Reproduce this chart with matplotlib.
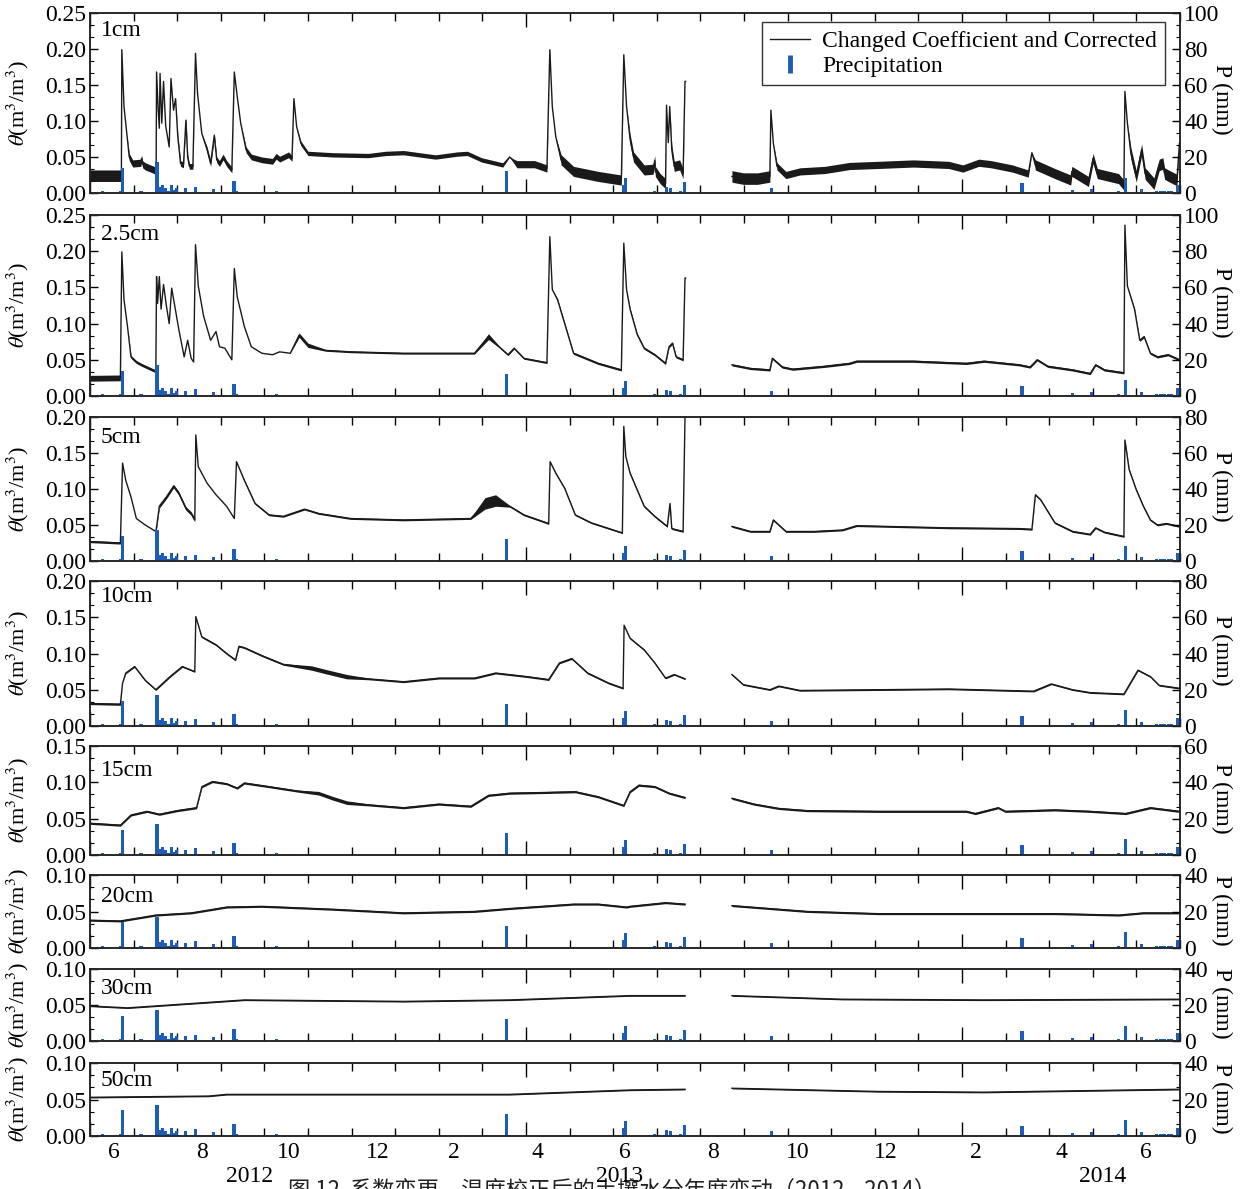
import numpy as np
import matplotlib
matplotlib.use('Agg')
import matplotlib.pyplot as plt
from matplotlib.lines import Line2D
from matplotlib.ticker import MultipleLocator, FormatStrFormatter

plt.rcParams['font.family'] = ['Liberation Serif', 'DejaVu Serif']
plt.rcParams['mathtext.fontset'] = 'stix'
FS = 17
plt.rcParams['font.size'] = FS

NAN = np.nan

# ---------------- data (x = day of record, 0..750) ----------------
depth_labels = ['1cm', '2.5cm', '5cm', '10cm', '15cm', '20cm', '30cm', '50cm']
theta_max = [0.25, 0.25, 0.20, 0.20, 0.15, 0.10, 0.10, 0.10]

rain_day = [8.8, 21.0, 22.4, 35.1, 46.1, 47.5, 49.9, 52.0, 54.2, 56.1, 57.8, 59.2, 65.4, 72.7,
            85.3, 99.1, 101.0, 128.0, 286.7, 367.0, 368.4, 388.4, 396.6, 399.4, 403.1, 406.4,
            409.3, 468.8, 641.3, 676.0, 689.3, 707.4, 712.5, 723.7, 733.9, 736.3, 739.0,
            741.8, 744.3, 748.0]
rain_mm = [1.0, 1.0, 14.0, 1.0, 17.0, 3.3, 4.2, 2.7, 1.0, 4.5, 1.6, 2.7, 2.7, 3.6,
           2.2, 6.4, 1.0, 1.0, 12.2, 4.6, 8.2, 0.9, 3.4, 3.0, 0.5, 1.2,
           6.0, 3.0, 5.7, 1.4, 2.0, 0.9, 8.6, 2.0, 1.0, 1.0, 1.0,
           1.0, 1.0, 4.6]

d1_day = [0, 21.6, 21.9, 23.4, 25.3, 27.0, 29.4, 35.0, 35.5, 36.2, 38.0, 44.1, 45.5,
          45.8, 46.8, 47.7, 48.2, 49.4, 50.6, 52.1, 54.5, 55.7, 57.5, 58.9, 60.4, 62.3, 64.3,
          66.0, 67.2, 68.4, 70.8, 72.6, 74.0, 76.9, 80.6, 83.0, 85.5, 87.2, 89.1, 91.6, 94.0,
          97.6, 99.3, 101.3, 103.7, 107.4, 111.0, 118.3, 125.6, 128.1, 130.5, 136.6, 139.0,
          140.3, 142.2, 145.1, 150.0, 167.1, 191.4, 203.6, 215.8, 237.7, 252.3, 259.6, 269.4,
          284.0, 288.8, 293.7, 305.9, 314.4, 316.4, 318.1, 320.5, 324.2, 332.7, 349.7, 365.6,
          367.3, 369.2, 371.6, 374.0, 381.3, 387.4, 388.6, 389.0, 392.3, 396.0, 396.7, 397.9,
          398.9, 400.3, 402.0, 405.7, 408.1, 409.4, 409.8, 425,
          441.7, 449.5, 459.3, 467.8, 468.5, 470.2, 472.7, 478.8, 488.5, 505.6, 522.6, 542.1,
          566.5, 590.8, 600.6, 611.5, 620.0, 634.7, 645.6, 648.1, 650.5, 663.9, 674.8, 675.6,
          687.0, 690.2, 693.1, 707.7, 711.4, 712.1, 713.8, 716.2, 719.9, 723.6, 726.0, 732.1,
          735.7, 738.2, 739.4, 743.0, 747.9, 749.6]
d1_theta = [0.024, 0.024, 0.199, 0.12, 0.083, 0.05, 0.041, 0.042, 0.048, 0.040, 0.037, 0.032, 0.030,
            0.168, 0.12, 0.09, 0.166, 0.097, 0.155, 0.093, 0.064, 0.159, 0.115, 0.131, 0.078, 0.041, 0.039,
            0.101, 0.05, 0.037, 0.037, 0.194, 0.138, 0.083, 0.06, 0.041, 0.08, 0.046, 0.041, 0.05, 0.041,
            0.032, 0.168, 0.134, 0.097, 0.06, 0.05, 0.046, 0.044, 0.051, 0.047, 0.053, 0.048,
            0.131, 0.092, 0.069, 0.055, 0.053, 0.052, 0.055, 0.056, 0.05, 0.054, 0.055, 0.046,
            0.039, 0.05, 0.04, 0.04, 0.034, 0.199, 0.12, 0.078, 0.046, 0.03, 0.023, 0.018,
            0.192, 0.12, 0.075, 0.05, 0.032, 0.033, 0.045, 0.03, 0.02, 0.013, 0.122, 0.07,
            0.12, 0.06, 0.037, 0.039, 0.027, 0.155, 0.155, NAN,
            0.023, 0.02, 0.02, 0.023, 0.115, 0.069, 0.037, 0.025, 0.03, 0.032, 0.0375, 0.039,
            0.041, 0.039, 0.034, 0.042, 0.04, 0.034, 0.027, 0.056, 0.039, 0.027, 0.018, 0.03,
            0.016, 0.048, 0.027, 0.02, 0.011, 0.141, 0.097, 0.055, 0.023, 0.06, 0.027, 0.013,
            0.039, 0.041, 0.027, 0.023, 0.018, 0.069]
# half-width of the measurement-noise band, by day range (start, end, half-width)
d1_noise = [(0, 21.7, 0.008), (27, 45.6, 0.005), (60, 72.5, 0.004), (80, 99.2, 0.004),
            (104, 140.2, 0.004), (145, 284, 0.003), (290, 316.3, 0.005), (322, 367.2, 0.007),
            (371, 396.6, 0.007), (400, 409.3, 0.007), (441, 468.4, 0.008), (472, 648.0, 0.005),
            (650, 712.0, 0.007), (716, 749.5, 0.008)]

d2_day = [0, 20.9, 21.9, 23.4, 25.8, 28.2, 31.9, 35.5, 45.3, 45.8, 46.5, 47.7, 48.9, 50.6, 52.6,
          54.5, 56.2, 58.7, 61.1, 64.8, 67.2, 69.6, 71.3, 72.6, 74.5, 78.2, 83.0, 86.7, 89.1,
          92.8, 97.6, 99.3, 101.3, 106.2, 111.0, 118.3, 125.6, 130.5, 137.8, 143.9, 150.0,
          162.2, 179.2, 215.8, 264.5, 274.2, 281.5, 287.6, 291.8, 298.6, 314.4, 316.4, 318.1,
          321.7, 327.8, 332.7, 349.7, 365.6, 367.3, 369.2, 371.6, 376.5, 381.3, 388.6, 396.0,
          398.4, 400.8, 403.3, 408.1, 409.4, 409.8, 425,
          441.7, 454.4, 467.8, 469.5, 476.3, 483.6, 505.6, 522.6, 527.5, 566.5, 603.0, 615.2,
          639.5, 646.8, 651.7, 659.0, 676.1, 688.2, 691.9, 698.0, 711.4, 712.1, 713.8, 718.7,
          722.3, 725.3, 729.6, 734.5, 741.8, 749.6]
d2_theta = [0.0245, 0.025, 0.199, 0.133, 0.096, 0.054, 0.047, 0.043, 0.034, 0.165, 0.128, 0.165,
            0.12, 0.154, 0.124, 0.1, 0.149, 0.12, 0.092, 0.054, 0.077, 0.052, 0.047, 0.209, 0.152,
            0.11, 0.077, 0.089, 0.068, 0.066, 0.05, 0.176, 0.137, 0.096, 0.068, 0.059, 0.057,
            0.061, 0.059, 0.084, 0.070, 0.063, 0.061, 0.059, 0.059, 0.082, 0.068, 0.057, 0.066,
            0.052, 0.046, 0.22, 0.147, 0.133, 0.092, 0.059, 0.045, 0.036, 0.211, 0.147, 0.12,
            0.085, 0.066, 0.057, 0.045, 0.068, 0.073, 0.054, 0.05, 0.163, 0.163, NAN,
            0.043, 0.038, 0.036, 0.052, 0.04, 0.037, 0.041, 0.045, 0.048, 0.048, 0.045, 0.048,
            0.043, 0.04, 0.05, 0.041, 0.036, 0.031, 0.043, 0.036, 0.032, 0.236, 0.152, 0.12,
            0.077, 0.082, 0.059, 0.054, 0.057, 0.05]
d2_noise = [(0, 21.0, 0.004), (28, 45.4, 0.002), (140, 160, 0.003), (270, 280, 0.004),
            (160, 316, 0.0012), (320, 367, 0.0015), (371, 409.3, 0.0015), (441, 712, 0.0015),
            (714, 750, 0.0015)]

d5_day = [0, 20.9, 22.4, 24.6, 28.2, 31.9, 38.0, 45.3, 46.0, 47.7, 52.6, 57.5, 61.1, 66.0, 69.6,
          72.1, 72.8, 74.5, 80.6, 86.7, 94.0, 99.3, 100.8, 106.2, 113.5, 123.2, 133.0, 147.6,
          157.3, 179.2, 215.8, 262.0, 271.8, 279.1, 288.8, 298.6, 315.6, 316.6, 320.5, 326.6,
          333.9, 344.9, 366.3, 367.3, 368.7, 371.6, 381.3, 388.6, 397.2, 399.1, 400.3, 408.1,
          409.4, 425,
          441.7, 454.4, 467.8, 470.2, 478.8, 498.3, 517.7, 527.5, 590.8, 639.5, 648.1, 650.5,
          654.1, 663.9, 676.1, 688.2, 691.9, 698.0, 711.4, 712.1, 715.0, 719.9, 724.8, 729.6,
          734.5, 740.6, 749.6]
d5_theta = [0.027, 0.025, 0.136, 0.112, 0.089, 0.059, 0.05, 0.041, 0.05, 0.076, 0.089, 0.104,
            0.094, 0.073, 0.066, 0.057, 0.175, 0.131, 0.108, 0.092, 0.076, 0.059, 0.138, 0.112,
            0.08, 0.064, 0.062, 0.072, 0.066, 0.059, 0.057, 0.059, 0.080, 0.084, 0.076, 0.064,
            0.052, 0.138, 0.122, 0.101, 0.064, 0.053, 0.039, 0.187, 0.145, 0.122, 0.076, 0.062,
            0.048, 0.08, 0.045, 0.041, 0.2, NAN,
            0.048, 0.041, 0.041, 0.057, 0.041, 0.041, 0.043, 0.049, 0.046, 0.045, 0.044, 0.092,
            0.085, 0.053, 0.041, 0.037, 0.046, 0.04, 0.034, 0.168, 0.127, 0.099, 0.076, 0.057,
            0.05, 0.052, 0.048]
d5_noise = [(0, 22.3, 0.0015), (268, 286, 0.008), (46, 72.7, 0.0025), (100.9, 316.5, 0.0012),
            (320, 367.2, 0.001), (371, 409.3, 0.0012), (441, 750, 0.0012)]

d10_day = [0, 20.9, 22.4, 24.6, 30.7, 38.0, 45.3, 55.0, 63.5, 72.1, 72.8, 76.9, 86.7, 94.0,
           100.1, 102.5, 106.2, 118.3, 133.0, 152.4, 162.2, 176.8, 191.4, 215.8, 240.1, 264.5,
           279.1, 301.0, 315.6, 323.0, 331.5, 342.4, 357.0, 366.8, 367.5, 371.6, 381.3, 388.6,
           396.0, 402.0, 409.4, 425,
           441.7, 449.5, 467.8, 473.9, 488.5, 542.1, 590.8, 649.3, 661.4, 676.1, 688.2, 711.4,
           721.1, 729.7, 735.7, 749.6]
d10_theta = [0.031, 0.030, 0.059, 0.073, 0.082, 0.063, 0.05, 0.068, 0.082, 0.075, 0.151, 0.123,
             0.112, 0.1, 0.091, 0.11, 0.108, 0.097, 0.085, 0.08, 0.075, 0.068, 0.065, 0.061,
             0.066, 0.066, 0.073, 0.068, 0.064, 0.087, 0.093, 0.073, 0.059, 0.052, 0.139, 0.121,
             0.105, 0.087, 0.066, 0.071, 0.065, NAN,
             0.071, 0.057, 0.05, 0.055, 0.049, 0.05, 0.051, 0.048, 0.058, 0.05, 0.046, 0.044,
             0.077, 0.068, 0.056, 0.052]
d10_noise = [(0, 22.3, 0.0015), (150, 185, 0.003), (22.5, 72.7, 0.001), (76, 367.4, 0.0012),
             (371, 410, 0.001), (441, 750, 0.001)]

d15_day = [0, 20.9, 28.2, 39.2, 47.7, 59.9, 73.3, 77.0, 84.2, 94.0, 101.3, 106.2, 123.2, 142.7,
           157.3, 167.1, 176.8, 191.4, 215.8, 240.1, 262.0, 274.2, 288.8, 313.2, 333.9, 349.7,
           367.3, 371.6, 377.7, 388.6, 398.4, 409.4, 425,
           441.7, 456.8, 473.9, 493.4, 542.1, 603.0, 609.1, 624.9, 629.8, 663.9, 688.2, 712.6,
           729.6, 749.6]
d15_theta = [0.0436, 0.041, 0.055, 0.06, 0.056, 0.061, 0.065, 0.094, 0.101, 0.098, 0.092, 0.099,
             0.094, 0.088, 0.085, 0.078, 0.072, 0.069, 0.065, 0.07, 0.067, 0.082, 0.085, 0.086,
             0.087, 0.08, 0.068, 0.087, 0.096, 0.094, 0.085, 0.079, NAN,
             0.078, 0.070, 0.064, 0.061, 0.06, 0.06, 0.057, 0.065, 0.06, 0.062, 0.06, 0.057,
             0.065, 0.06]
d15_noise = [(150, 180, 0.0025), (0, 750, 0.0014)]

d20_day = [0, 20.9, 45.3, 69.6, 94.0, 118.3, 167.1, 215.8, 264.5, 288.8, 332.7, 349.7, 369.2,
           371.6, 396.0, 409.4, 425,
           441.7, 493.4, 542.1, 615.2, 663.9, 707.7, 724.8, 749.6]
d20_theta = [0.038, 0.037, 0.045, 0.048, 0.056, 0.057, 0.053, 0.048, 0.05, 0.054, 0.06, 0.06,
             0.056, 0.057, 0.062, 0.06, NAN,
             0.058, 0.05, 0.047, 0.047, 0.047, 0.045, 0.048, 0.048]
d20_noise = [(0, 750, 0.0013)]

d30_day = [0, 25.8, 69.6, 106.2, 215.8, 288.8, 371.6, 409.4, 425, 441.7, 517.7, 615.2, 749.6]
d30_theta = [0.0486, 0.046, 0.052, 0.057, 0.055, 0.057, 0.063, 0.063, NAN, 0.063, 0.058, 0.057, 0.058]
d30_noise = [(0, 750, 0.0009)]

d50_day = [0, 81.8, 94.0, 288.8, 371.6, 409.4, 425, 441.7, 542.1, 615.2, 749.6]
d50_theta = [0.053, 0.0547, 0.057, 0.057, 0.063, 0.064, NAN, 0.0654, 0.061, 0.060, 0.064]
d50_noise = [(0, 750, 0.0009)]

month_labels = ['6', '8', '10', '12', '2', '4', '6', '8', '10', '12', '2', '4', '6']
month_label_day = [16.5, 76.8, 136.6, 197.8, 250.3, 307.9, 367.9, 428.7, 487.2, 547.8, 609.7, 668.2, 726.6]
year_labels = ['2012', '2013', '2014']
year_label_day = [110.0, 364.7, 697.0]
caption = '图 12  系数变更、温度校正后的土壤水分年度变动（2012—2014）'

series = [(d1_day, d1_theta, d1_noise), (d2_day, d2_theta, d2_noise), (d5_day, d5_theta, d5_noise),
          (d10_day, d10_theta, d10_noise), (d15_day, d15_theta, d15_noise),
          (d20_day, d20_theta, d20_noise), (d30_day, d30_theta, d30_noise),
          (d50_day, d50_theta, d50_noise)]


def noise_halfwidth(days, ranges):
    out = []
    for d in days:
        a = 0.0
        for (s, e, amp) in ranges:
            if s <= d <= e:
                a = amp
                break
        out.append(a)
    return np.array(out)


# ---------------- layout ----------------
W, H = 1243, 1189
fig = plt.figure(figsize=(W / 100, H / 100), dpi=100)
LEFT, RIGHT = 90, 1180
panel_px = [(13, 193), (215, 396), (417, 561), (581, 726), (746, 855), (875, 948), (969, 1041), (1063, 1136)]
label_y = [30, 234, 437, 597, 770, 897, 988, 1081]
BLUE = '#1f5cb8'
BLACK = '#1a1a1a'
XMAX = 750

ax_list = []
for i in range(8):
    top, bot = panel_px[i]
    ax = fig.add_axes([LEFT / W, 1 - bot / H, (RIGHT - LEFT) / W, (bot - top) / H])
    ax2 = ax.twinx()
    days, th, nz = series[i]
    days = np.asarray(days, float)
    th = np.asarray(th, float)
    hw = noise_halfwidth(days, nz)
    gaps = list(np.where(np.isnan(th))[0])
    bounds = [-1] + gaps + [len(th)]
    for a, b in zip(bounds[:-1], bounds[1:]):
        seg = slice(a + 1, b)
        ax.fill_between(days[seg], th[seg] - hw[seg], th[seg] + hw[seg], color=BLACK, lw=0,
                        zorder=3)
        ax.plot(days[seg], th[seg], color=BLACK, lw=1.0, zorder=3)
    ax2.bar(rain_day, rain_mm, width=2.1, color=BLUE, zorder=2)
    ax.set_xlim(0, XMAX)
    ax.set_ylim(0, theta_max[i])
    ax2.set_ylim(0, theta_max[i] * 400)

    ax.xaxis.set_major_locator(MultipleLocator(300))
    ax.xaxis.set_minor_locator(MultipleLocator(30))
    ax.set_xticklabels([])
    ax.yaxis.set_major_locator(MultipleLocator(0.05))
    ax.yaxis.set_minor_locator(MultipleLocator(0.05 / 3))
    ax.yaxis.set_major_formatter(FormatStrFormatter('%.2f'))
    ax2.yaxis.set_major_locator(MultipleLocator(20))
    ax2.yaxis.set_minor_locator(MultipleLocator(20 / 3))

    ax.tick_params(axis='x', which='both', direction='in', top=True, bottom=True, labelbottom=False)
    ax.tick_params(axis='x', which='major', length=10, width=1.0)
    ax.tick_params(axis='x', which='minor', length=6, width=1.0)
    ax.tick_params(axis='y', which='major', direction='in', length=6, width=1.0, labelsize=FS, pad=3)
    ax.tick_params(axis='y', which='minor', direction='in', length=3, width=0.8)
    ax2.tick_params(axis='y', which='major', direction='in', length=6, width=1.0, labelsize=FS, pad=3)
    ax2.tick_params(axis='y', which='minor', direction='in', length=3, width=0.8)

    for a in (ax, ax2):
        for s in a.spines.values():
            s.set_linewidth(1.1)
            s.set_color('#222222')

    ax.set_ylabel(r'$\theta$(m$^3$/m$^3$)', fontsize=16)
    ax.yaxis.set_label_coords((31 - LEFT) / (RIGHT - LEFT), 0.5)
    ax2.set_ylabel('P (mm)', rotation=270, fontsize=FS, va='center')
    ax2.yaxis.set_label_coords((1222 - LEFT) / (RIGHT - LEFT), 0.52)

    fig.text(101 / W, 1 - label_y[i] / H, depth_labels[i], fontsize=FS, va='center', ha='left')
    ax_list.append((ax, ax2))

# legend in first panel
ax, ax2 = ax_list[0]
handles = [Line2D([], [], color=BLACK, lw=1.0),
           Line2D([], [], color=BLUE, marker='|', ls='none', markersize=13, markeredgewidth=3.5)]
leg = ax2.legend(handles, ['Changed Coefficient and Corrected', 'Precipitation'],
                 loc='upper right', bbox_to_anchor=((1165 - LEFT) / (RIGHT - LEFT), 1 - (22 - 13) / 180),
                 frameon=True, fancybox=False, framealpha=1, edgecolor='#333333', fontsize=FS,
                 handlelength=1.7, handletextpad=0.5, labelspacing=0.15, borderpad=0.35,
                 borderaxespad=0)
leg.get_frame().set_linewidth(1.0)

# x labels (months and years)
for lab, d in zip(month_labels, month_label_day):
    x = LEFT + d * (RIGHT - LEFT) / XMAX
    fig.text(x / W, 1 - 1152 / H, lab, ha='center', va='center', fontsize=FS)

# caption (cut by the lower edge, as in the reference), drawn beneath the year labels
fig.text(612 / W, 1 - 1179 / H, caption, ha='center', va='top', fontsize=16,
         family=['Noto Sans CJK SC', 'DejaVu Sans'], color='#222222', zorder=1)

for lab, d in zip(year_labels, year_label_day):
    x = LEFT + d * (RIGHT - LEFT) / XMAX
    fig.text(x / W, 1 - 1176 / H, lab, ha='center', va='center', fontsize=FS,
             bbox=dict(facecolor='none', edgecolor='none', pad=0), zorder=3)

fig.savefig('out.png', dpi=100)
